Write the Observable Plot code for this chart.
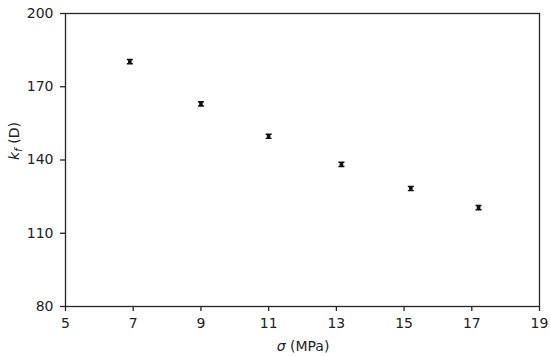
<!DOCTYPE html>
<html>
<head>
<meta charset="utf-8">
<script src="https://cdn.jsdelivr.net/npm/d3@7"></script>
<script src="https://cdn.jsdelivr.net/npm/@observablehq/plot@0.6"></script>
<style>
  html, body { margin: 0; padding: 0; background: #fff; }
  svg { font-family: "DejaVu Sans", Verdana, sans-serif; }
</style>
</head>
<body>
<div id="chart"></div>
<script>
const sigma = [6.9, 9.0, 11.0, 13.15, 15.2, 17.2];
const kf = [180.3, 163.0, 149.7, 138.2, 128.3, 120.5];
const xTicks = [5, 7, 9, 11, 13, 15, 17, 19];
const yTicks = [80, 110, 140, 170, 200];

const data = sigma.map((s, i) => ({sigma: s, kf: kf[i]}));

// I-beam marker (square with caps)
const markerSymbol = {
  draw(ctx, size) {
    ctx.rect(-3, -2.8, 6, 1.4);
    ctx.rect(-3, 1.4, 6, 1.4);
    ctx.rect(-1.8, -1.8, 3.6, 3.6);
  }
};

const ink = "#262626";
const plot = Plot.plot({
  width: 550,
  height: 356,
  marginLeft: 65,
  marginRight: 11,
  marginTop: 13,
  marginBottom: 50,
  style: {fontFamily: "DejaVu Sans, Verdana, sans-serif", fontSize: "14px", color: "#222"},
  x: {domain: [5, 19], ticks: xTicks, label: null},
  y: {domain: [80, 200], ticks: yTicks, label: null},
  marks: [
    Plot.frame({stroke: ink, strokeWidth: 1.3}),
    Plot.axisX({ticks: xTicks, tickSize: 5, tickPadding: 7, stroke: ink, strokeWidth: 1.3, fontSize: 14, label: null}),
    Plot.axisY({ticks: yTicks, tickSize: 5, tickPadding: 7, stroke: ink, strokeWidth: 1.3, fontSize: 14, label: null}),
    Plot.dot(data, {x: "sigma", y: "kf", symbol: markerSymbol, r: 3, fill: "#111", stroke: "none"})
  ]
});
document.getElementById("chart").appendChild(plot);

const svg = d3.select(plot);
// x axis title: σ (MPa)
const xt = svg.append("text")
  .attr("x", 303).attr("y", 351)
  .attr("text-anchor", "middle")
  .attr("fill", "#222")
  .style("font-size", "14px");
xt.append("tspan").attr("font-style", "italic").text("σ");
xt.append("tspan").text(" (MPa)");

// y axis title: k_f (D)
const yt = svg.append("text")
  .attr("transform", "translate(19,141) rotate(-90)")
  .attr("text-anchor", "middle")
  .attr("fill", "#222")
  .style("font-size", "14px");
yt.append("tspan").attr("font-style", "italic").text("k");
yt.append("tspan").attr("font-style", "italic").attr("font-size", "10px").attr("dy", "3").text("f");
yt.append("tspan").attr("dy", "-3").text(" (D)");
</script>
</body>
</html>
